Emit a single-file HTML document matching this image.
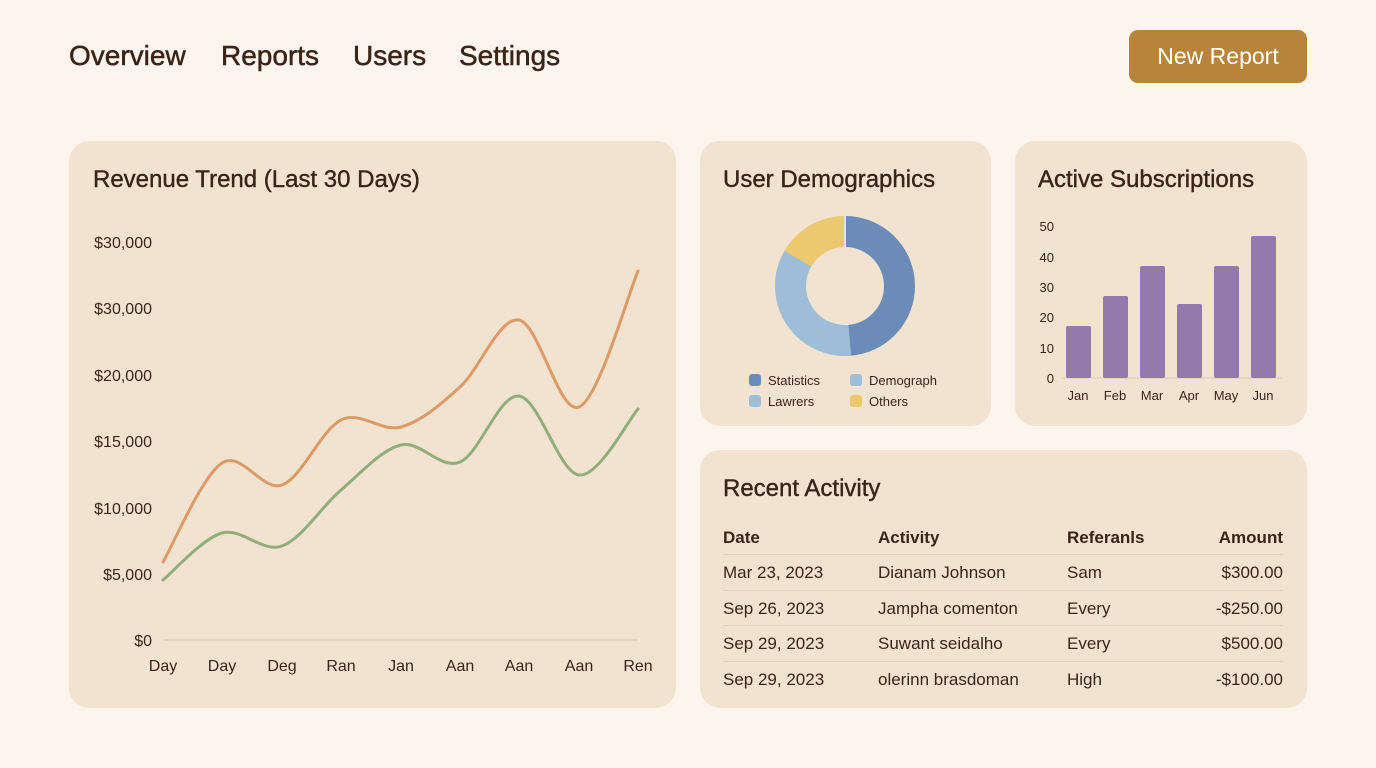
<!DOCTYPE html>
<html><head><meta charset="utf-8"><style>
*{margin:0;padding:0;box-sizing:border-box}
body{width:1376px;height:768px;background:#fbf5ee;font-family:"Liberation Sans",sans-serif;color:#3a2418;position:relative;overflow:hidden}
.a{position:absolute;white-space:nowrap}
.nav{font-size:28px;top:40px;color:#3a2418;-webkit-text-stroke:0.5px #3a2418}
.card{position:absolute;background:#f1e3d0;border-radius:20px}
.t{font-size:24px;color:#3a2418;-webkit-text-stroke:0.4px #3a2418}
.s{font-size:15px;color:#3a2418}
.tb{font-size:17px;color:#3a2418}
.line{position:absolute;height:1px;background:#e0d0bb;left:723px;width:560px}
</style></head><body>
<div class="a nav" style="left:69px">Overview</div>
<div class="a nav" style="left:221px">Reports</div>
<div class="a nav" style="left:353px">Users</div>
<div class="a nav" style="left:459px">Settings</div>
<div class="a" style="left:1129px;top:30px;width:178px;height:53px;background:#b7843a;border-radius:9px;color:#fff;font-size:23px;text-align:center;line-height:53px">New Report</div>

<div class="card" style="left:69px;top:141px;width:607px;height:567px"></div>
<div class="card" style="left:700px;top:141px;width:291px;height:285px"></div>
<div class="card" style="left:1015px;top:141px;width:292px;height:285px"></div>
<div class="card" style="left:700px;top:450px;width:607px;height:258px"></div>

<div class="a t" style="left:93px;top:166px">Revenue Trend (Last 30 Days)</div>
<div class="a t" style="left:723px;top:166px">User Demographics</div>
<div class="a t" style="left:1038px;top:166px">Active Subscriptions</div>
<div class="a t" style="left:723px;top:475px">Recent Activity</div>

<svg class="a" style="left:0;top:0" width="1376" height="768">
<g font-family="Liberation Sans,sans-serif" font-size="16" fill="#3a2418" text-anchor="end">
<text x="152" y="248">$30,000</text><text x="152" y="314">$30,000</text><text x="152" y="381">$20,000</text>
<text x="152" y="447">$15,000</text><text x="152" y="514">$10,000</text><text x="152" y="580">$5,000</text><text x="152" y="646">$0</text>
</g>
<line x1="163" y1="640" x2="638" y2="640" stroke="#dccbb4" stroke-width="1"/>
<g font-family="Liberation Sans,sans-serif" font-size="16" fill="#3a2418" text-anchor="middle">
<text x="163" y="671">Day</text><text x="222" y="671">Day</text><text x="282" y="671">Deg</text><text x="341" y="671">Ran</text><text x="401" y="671">Jan</text><text x="460" y="671">Aan</text><text x="519" y="671">Aan</text><text x="579" y="671">Aan</text><text x="638" y="671">Ren</text>
</g>
<path id="or" fill="none" stroke="#dc9a66" stroke-width="3" stroke-linecap="round"/>
<path id="gr" fill="none" stroke="#8fae7a" stroke-width="3" stroke-linecap="round"/>

<g transform="translate(845,286)" fill="none" stroke-width="31">
<circle r="54.5" stroke="#6b8cb8" stroke-dasharray="166.5 400" transform="rotate(-90)"/>
<circle r="54.5" stroke="#9dbdd8" stroke-dasharray="119 400" transform="rotate(85)"/>
<circle r="54.5" stroke="#ecc870" stroke-dasharray="57 400" transform="rotate(210)"/>
<g stroke="#f1e3d0" stroke-width="2"><line x1="0" y1="-39" x2="0" y2="-71"/></g>
</g>
<g font-family="Liberation Sans,sans-serif" font-size="13" fill="#3a2418">
<rect x="749" y="374" width="12" height="12" rx="3" fill="#6b8cb8"/><text x="768" y="385">Statistics</text>
<rect x="850" y="374" width="12" height="12" rx="3" fill="#9dbdd8"/><text x="869" y="385">Demograph</text>
<rect x="749" y="395" width="12" height="12" rx="3" fill="#9dbdd8"/><text x="768" y="406">Lawrers</text>
<rect x="850" y="395" width="12" height="12" rx="3" fill="#ecc870"/><text x="869" y="406">Others</text>
</g>

<g font-family="Liberation Sans,sans-serif" font-size="13" fill="#3a2418" text-anchor="end">
<text x="1054" y="231">50</text><text x="1054" y="262">40</text><text x="1054" y="292">30</text><text x="1054" y="322">20</text><text x="1054" y="353">10</text><text x="1054" y="383">0</text>
</g>
<line x1="1062" y1="378" x2="1283" y2="378" stroke="#dccbb4"/>
<g fill="#9479ad">
<rect x="1066" y="326" width="25" height="52" rx="2"/><rect x="1103" y="296" width="25" height="82" rx="2"/>
<rect x="1140" y="266" width="25" height="112" rx="2"/><rect x="1177" y="304" width="25" height="74" rx="2"/>
<rect x="1214" y="266" width="25" height="112" rx="2"/><rect x="1251" y="236" width="25" height="142" rx="2"/>
</g>
<g font-family="Liberation Sans,sans-serif" font-size="13" fill="#3a2418" text-anchor="middle">
<text x="1078" y="400">Jan</text><text x="1115" y="400">Feb</text><text x="1152" y="400">Mar</text><text x="1189" y="400">Apr</text><text x="1226" y="400">May</text><text x="1263" y="400">Jun</text>
</g>
</svg>

<div class="a tb" style="left:723px;top:528px;font-weight:bold">Date</div>
<div class="a tb" style="left:878px;top:528px;font-weight:bold">Activity</div>
<div class="a tb" style="left:1067px;top:528px;font-weight:bold">Referanls</div>
<div class="a tb" style="right:93px;top:528px;font-weight:bold">Amount</div>
<div class="line" style="top:554px"></div><div class="line" style="top:590px"></div><div class="line" style="top:625px"></div><div class="line" style="top:661px"></div>
<div class="a tb" style="left:723px;top:563px">Mar 23, 2023</div><div class="a tb" style="left:878px;top:563px">Dianam Johnson</div><div class="a tb" style="left:1067px;top:563px">Sam</div><div class="a tb" style="right:93px;top:563px">$300.00</div>
<div class="a tb" style="left:723px;top:599px">Sep 26, 2023</div><div class="a tb" style="left:878px;top:599px">Jampha comenton</div><div class="a tb" style="left:1067px;top:599px">Every</div><div class="a tb" style="right:93px;top:599px">-$250.00</div>
<div class="a tb" style="left:723px;top:634px">Sep 29, 2023</div><div class="a tb" style="left:878px;top:634px">Suwant seidalho</div><div class="a tb" style="left:1067px;top:634px">Every</div><div class="a tb" style="right:93px;top:634px">$500.00</div>
<div class="a tb" style="left:723px;top:670px">Sep 29, 2023</div><div class="a tb" style="left:878px;top:670px">olerinn brasdoman</div><div class="a tb" style="left:1067px;top:670px">High</div><div class="a tb" style="right:93px;top:670px">-$100.00</div>

<script>
function cr(p){var d="M"+p[0][0]+","+p[0][1];for(var i=0;i<p.length-1;i++){var a=p[i-1]||p[i],b=p[i],c=p[i+1],e=p[i+2]||c;
d+=" C"+(b[0]+(c[0]-a[0])/6)+","+(b[1]+(c[1]-a[1])/6)+" "+(c[0]-(e[0]-b[0])/6)+","+(c[1]-(e[1]-b[1])/6)+" "+c[0]+","+c[1];}return d;}
var xs=[163,222,282,341,401,460,519,579,638];
var o=[562,463,485,420,427,387,320,407,271],g=[580,533,546,490,445,462,396,475,409];
document.getElementById("or").setAttribute("d",cr(xs.map(function(x,i){return[x,o[i]]})));
document.getElementById("gr").setAttribute("d",cr(xs.map(function(x,i){return[x,g[i]]})));
</script>
</body></html>
